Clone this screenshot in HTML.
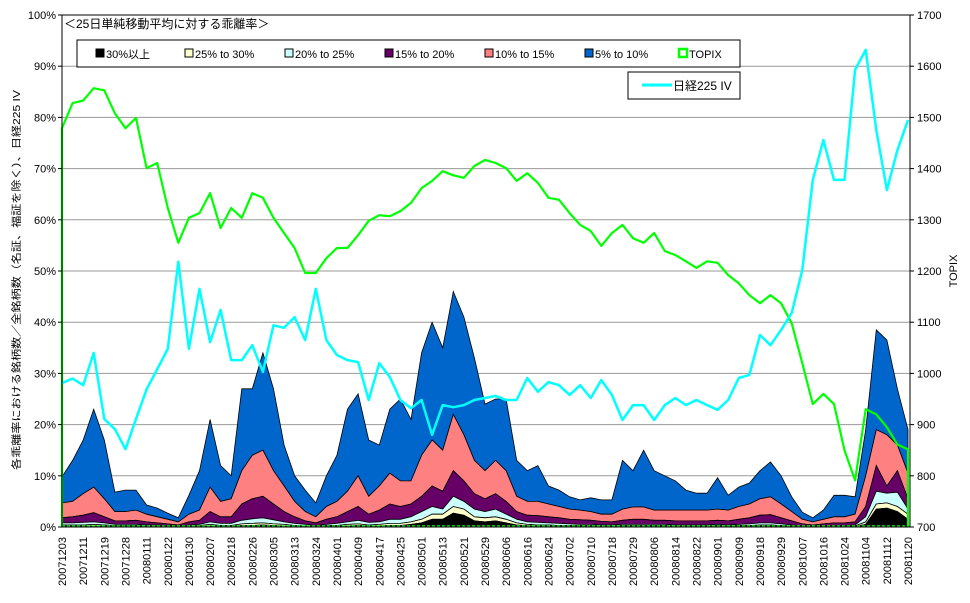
<!DOCTYPE html>
<html><head><meta charset="utf-8">
<style>
html,body{margin:0;padding:0;background:#fff;}
svg{display:block;font-family:"Liberation Sans","Noto Sans CJK JP",sans-serif;}
</style></head>
<body>
<svg id="chart" width="970" height="603" viewBox="0 0 970 603" xmlns="http://www.w3.org/2000/svg">
<g id="grid"></g>
<g id="areas"></g>
<g id="lines"></g>
<g id="axes"></g>
<text x="64" y="28" font-size="12">＜25日単純移動平均に対する乖離率＞</text>
<g>
<rect x="77" y="40" width="663" height="27" fill="#fff" stroke="#000" stroke-width="1"/>
<g><rect x="96" y="49" width="8" height="8" fill="#000" stroke="#000"/><text x="106" y="58" font-size="11">30%以上</text></g>
<g><rect x="185" y="49" width="8" height="8" fill="#ffffcc" stroke="#000"/><text x="195" y="58" font-size="11">25% to 30%</text></g>
<g><rect x="285" y="49" width="8" height="8" fill="#ccffff" stroke="#000"/><text x="295" y="58" font-size="11">20% to 25%</text></g>
<g><rect x="385" y="49" width="8" height="8" fill="#660066" stroke="#000"/><text x="395" y="58" font-size="11">15% to 20%</text></g>
<g><rect x="485" y="49" width="8" height="8" fill="#ff8080" stroke="#000"/><text x="495" y="58" font-size="11">10% to 15%</text></g>
<g><rect x="585" y="49" width="8" height="8" fill="#0066cc" stroke="#000"/><text x="595" y="58" font-size="11">5% to 10%</text></g>
<g><rect x="679" y="49" width="8" height="8" fill="#fff" stroke="#00ff00" stroke-width="2.5"/><text x="689" y="58" font-size="11">TOPIX</text></g>
</g>
<g>
<rect x="628" y="72" width="112" height="27" fill="#fff" stroke="#000" stroke-width="1"/>
<g><line x1="642" y1="85" x2="672" y2="85" stroke="#00ffff" stroke-width="3"/><text x="673" y="90" font-size="12">日経225 IV</text></g>
</g>
<text transform="translate(20,280) rotate(-90)" text-anchor="middle" font-size="10" textLength="380" lengthAdjust="spacingAndGlyphs">各乖離率における銘柄数／全銘柄数（名証、福証を除く）、日経225 IV</text>
<text transform="translate(957,271) rotate(-90)" text-anchor="middle" font-size="11">TOPIX</text>
</svg>
<script>
const dateLabels=["20071203","20071211","20071219","20071228","20080111","20080122","20080130","20080207","20080218","20080226","20080305","20080313","20080324","20080401","20080409","20080417","20080425","20080501","20080513","20080521","20080529","20080606","20080616","20080624","20080702","20080710","20080718","20080729","20080806","20080814","20080822","20080901","20080909","20080918","20080929","20081007","20081016","20081024","20081104","20081112","20081120"];
const leftTicks=["0%","10%","20%","30%","40%","50%","60%","70%","80%","90%","100%"];
const rightTicks=[700,800,900,1000,1100,1200,1300,1400,1500,1600,1700];
// share of stocks with deviation at or above threshold (%)
const over5=[9.8,13,17,23,17,6.8,7.2,7.2,4.3,3.7,2.7,1.8,6.2,11,21,12,10,27,27,34,27,16,10,7.2,4.7,10,14,23,26,17,16,23,25,21,34,40,35,46,41,33,24,25,25,13,11,12,8,7.2,5.9,5.3,5.7,5.3,5.3,13,11,15,11,10,9,7.2,6.6,6.6,9.6,6.2,7.8,8.6,11,12.7,10,5.9,2.9,1.8,3.3,6.2,6.2,5.9,19,38.5,36.5,27,19];
const over10=[4.7,5,6.5,7.8,5.5,3,3,3.3,2.5,2,1.5,1,2.5,3.3,7.8,5,5.5,11,14,15,11,8,5,3,2,4,5,7,10,6,8,10.5,9,9,14,17,15,22,18,13,11,13,11,6,5,5,4.5,4,3.5,3.3,3,2.5,2.5,3.5,3.9,3.9,3.3,3.3,3.3,3.3,3.3,3.3,3.5,3.3,4,4.5,5.5,5.9,4.5,3,1.5,1,1.5,2,2,2.5,10,19,18,16,10.5];
const over15=[1.8,2,2.3,2.8,2,1.2,1.2,1.3,1,0.8,0.6,0.4,1,1.3,3,2,2,4.5,5.5,6,4.5,3,2,1.2,0.8,1.5,2,3,4,2.5,3.3,4.5,4,4.5,6,8,7,11,9,6.5,5.5,6.5,5,3,2.3,2.2,2,1.8,1.5,1.4,1.3,1.1,1,1.3,1.5,1.5,1.3,1.3,1.2,1.2,1.2,1.2,1.3,1.2,1.5,1.8,2.3,2.4,1.8,1.2,0.6,0.4,0.6,0.8,0.8,1,4,12,8,11,5.5];
const over20=[0.8,0.8,0.9,1,0.8,0.5,0.5,0.5,0.4,0.4,0.3,0.2,0.4,0.5,1,0.7,0.7,1.3,1.6,1.8,1.4,1,0.7,0.5,0.3,0.5,0.7,1,1.3,0.9,1,1.5,1.5,2,3,4,3.5,6,5,3.5,3,3.5,2.5,1.5,1,0.9,0.8,0.7,0.6,0.5,0.5,0.4,0.4,0.5,0.5,0.5,0.5,0.5,0.4,0.4,0.4,0.4,0.5,0.4,0.5,0.6,0.8,0.8,0.6,0.4,0.2,0.2,0.2,0.3,0.3,0.4,2,7,6.6,6.8,3.5];
const over25=[0.4,0.4,0.4,0.5,0.4,0.3,0.3,0.3,0.2,0.2,0.2,0.1,0.2,0.3,0.5,0.3,0.3,0.6,0.7,0.8,0.6,0.5,0.3,0.2,0.2,0.3,0.3,0.5,0.6,0.4,0.5,0.7,0.7,1,1.5,2.5,2.5,4,3.5,2,1.8,2,1.5,0.8,0.5,0.4,0.4,0.3,0.3,0.3,0.3,0.2,0.2,0.3,0.3,0.3,0.3,0.3,0.2,0.2,0.2,0.2,0.3,0.2,0.3,0.3,0.4,0.4,0.3,0.2,0.1,0.1,0.1,0.2,0.2,0.2,1,4.5,4.7,4,2.5];
const over30=[0.2,0.2,0.2,0.2,0.2,0.1,0.1,0.1,0.1,0.1,0.1,0.05,0.1,0.1,0.2,0.15,0.15,0.3,0.3,0.4,0.3,0.2,0.15,0.1,0.1,0.15,0.15,0.2,0.3,0.2,0.2,0.3,0.3,0.5,0.8,1.5,1.5,2.7,2.3,1.2,1,1.2,0.8,0.4,0.25,0.2,0.2,0.15,0.15,0.15,0.15,0.1,0.1,0.15,0.15,0.15,0.15,0.15,0.1,0.1,0.1,0.1,0.15,0.1,0.15,0.15,0.2,0.2,0.15,0.1,0.05,0.05,0.05,0.1,0.1,0.1,0.5,3.5,3.7,3,1.5];
const topix=[1479,1528,1533,1557,1553,1508,1479,1499,1401,1411,1323,1255,1304,1313,1352,1284,1323,1304,1352,1343,1304,1274,1245,1196,1196,1225,1245,1245,1270,1298,1309,1307,1317,1333,1362,1376,1395,1387,1382,1405,1417,1411,1401,1376,1391,1372,1343,1339,1313,1290,1278,1249,1274,1290,1264,1255,1274,1239,1231,1219,1206,1219,1216,1192,1176,1153,1137,1153,1137,1098,1020,940,960,940,850,791,930,920,895,861,852];
const iv=[28.1,29,27.7,34,21.1,19.1,15.2,21.1,26.9,30.8,34.8,51.8,34.8,46.5,36.1,42.4,32.6,32.6,35.5,30.3,39.4,38.9,41,36.5,46.5,36.5,33.6,32.6,32.2,24.8,32,29.3,24.8,23.2,24.8,18,23.8,23.4,23.8,24.8,25.2,25.6,24.8,24.8,29.1,26.4,28.3,27.7,25.8,27.7,25.2,28.7,25.8,20.9,23.8,23.8,20.9,23.8,25.2,23.8,24.8,23.8,22.9,24.8,29.1,29.7,37.5,35.5,38.5,41.8,50.2,67.8,75.6,67.8,67.8,89.3,93.2,77.5,65.8,73.6,79.5];

const NS="http://www.w3.org/2000/svg";
const X0=62,X1=910,Y0=527,Y1=15;
const N=over5.length;
const xAt=i=>X0+(X1-X0-2)*i/(N-1);
const yL=v=>Y0-(Y0-Y1)*v/100;
const yR=v=>Y0-(Y0-Y1)*(v-700)/1000;
function mk(tag,attrs,parent){const e=document.createElementNS(NS,tag);for(const k in attrs)e.setAttribute(k,attrs[k]);parent.appendChild(e);return e;}
const grid=document.getElementById('grid'),areas=document.getElementById('areas'),lines=document.getElementById('lines'),axes=document.getElementById('axes');

leftTicks.forEach((t,k)=>{
  const y=yL(k*10);
  if(k>0&&k<10){const g=mk('line',{x1:X0,x2:X1,y1:y,y2:y,stroke:'#999','stroke-width':1},grid);
  
  }
  const tk=mk('line',{x1:X0-4,x2:X0,y1:y,y2:y,stroke:'#000'},axes);
  
  
  const tx=mk('text',{x:X0-6,y:y+4,'text-anchor':'end','font-size':11},axes);
  tx.textContent=t;
  
  
});
rightTicks.forEach(v=>{
  const y=yR(v);
  const tk=mk('line',{x1:X1,x2:X1+4,y1:y,y2:y,stroke:'#000'},axes);
  
  
  const tx=mk('text',{x:X1+7,y:y+4,'font-size':11},axes);
  tx.textContent=v;
  
  
});
dateLabels.forEach((d,k)=>{
  const x=X0+(X1-X0-2)*k/(dateLabels.length-1);
  const tx=mk('text',{transform:`translate(${x+4},537) rotate(-90)`,'text-anchor':'end','font-size':11},axes);
  tx.textContent=d;
  
  
});
const bands=[[over5,over10,'#0066cc','band-5-10'],[over10,over15,'#ff8080','band-10-15'],[over15,over20,'#660066','band-15-20'],[over20,over25,'#ccffff','band-20-25'],[over25,over30,'#ffffcc','band-25-30'],[over30,null,'#000000','band-30plus']];
bands.forEach(([top,bot,col,name])=>{
  let d='';
  for(let i=0;i<N;i++)d+=(i?'L':'M')+xAt(i).toFixed(1)+','+yL(top[i]).toFixed(1);
  for(let i=N-1;i>=0;i--)d+='L'+xAt(i).toFixed(1)+','+yL(bot?bot[i]:0).toFixed(1);
  const p=mk('path',{d:d+'Z',fill:col,stroke:'#000','stroke-width':0.8},areas);
  
  
});
let dT='M'+xAt(0)+','+Y0;
topix.forEach((v,i)=>{dT+='L'+xAt(i).toFixed(1)+','+yR(v).toFixed(1);});
dT+='L'+xAt(N-1)+','+Y0;
const pt=mk('path',{d:dT,fill:'none',stroke:'#00ff00','stroke-width':2.2,'stroke-linejoin':'round'},lines);


let dI='';
iv.forEach((v,i)=>{dI+=(i?'L':'M')+xAt(i).toFixed(1)+','+yL(v).toFixed(1);});
const pi=mk('path',{d:dI,fill:'none',stroke:'#00ffff','stroke-width':2.5,'stroke-linejoin':'round'},lines);


const bl=mk('line',{x1:X0,x2:X1,y1:Y0-1,y2:Y0-1,stroke:'#00ff00','stroke-width':1.5,'stroke-dasharray':'3,2'},lines);


const fr=mk('rect',{x:X0,y:Y1,width:X1-X0,height:Y0-Y1,fill:'none',stroke:'#000','stroke-width':1},axes);


</script>
</body></html>
